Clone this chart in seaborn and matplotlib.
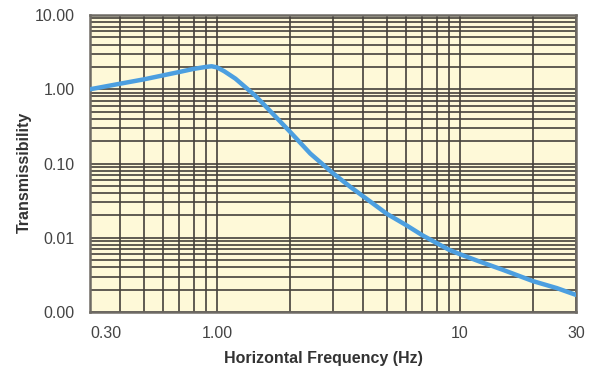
import numpy as np
import matplotlib
matplotlib.use("Agg")
import matplotlib.pyplot as plt
from matplotlib.ticker import FixedLocator, FixedFormatter, LogLocator, NullFormatter
import seaborn as sns

# ---------- datos ----------
freq = [0.3, 0.4, 0.5, 0.6, 0.7, 0.8, 0.9, 0.95, 1.0, 1.07, 1.19, 1.43, 1.6,
        2.0, 2.42, 3.0, 3.52, 4.0, 5.0, 6.0, 7.0, 8.0, 9.0, 10.0, 12.0, 15.0,
        20.0, 25.0, 30.0]
trans = [1.0, 1.19, 1.36, 1.54, 1.71, 1.88, 2.0, 2.04, 1.97, 1.75, 1.39, 0.83, 0.57,
         0.266, 0.136, 0.074, 0.049, 0.036, 0.021, 0.0148, 0.0108, 0.0085, 0.0069, 0.0060, 0.0048, 0.0037,
         0.0026, 0.0021, 0.0017]

x_ticks = [0.3, 1, 10, 30]
x_labels = ["0.30", "1.00", "10", "30"]
y_ticks = [0.001, 0.01, 0.1, 1, 10]
y_labels = ["0.00", "0.01", "0.10", "1.00", "10.00"]

# ---------- estilo ----------
sns.set_theme(style="white")
plt.rcParams['font.family'] = ['Liberation Sans Narrow', 'Liberation Sans', 'DejaVu Sans']

fig = plt.figure(figsize=(6, 3.82), dpi=100)
ax = fig.add_axes([0.15, 0.1832, 0.81, 0.7775])
ax.set_facecolor('#fef9d8')
ax.set_xscale('log'); ax.set_yscale('log')

sns.lineplot(x=freq, y=trans, ax=ax, color='#4c9fe0', linewidth=3.2, zorder=5)

ax.set_xlim(0.3, 30); ax.set_ylim(0.001, 10)
ax.xaxis.set_major_locator(FixedLocator(x_ticks))
ax.xaxis.set_major_formatter(FixedFormatter(x_labels))
ax.xaxis.set_minor_locator(LogLocator(base=10, subs=np.arange(2, 10)))
ax.xaxis.set_minor_formatter(NullFormatter())
ax.yaxis.set_major_locator(FixedLocator(y_ticks))
ax.yaxis.set_major_formatter(FixedFormatter(y_labels))
ax.yaxis.set_minor_locator(LogLocator(base=10, subs=np.arange(2, 10)))
ax.yaxis.set_minor_formatter(NullFormatter())

ax.grid(True, which='both', color='#45413b', linewidth=1.2)
ax.tick_params(which='both', length=0)
ax.tick_params(axis='x', pad=10, labelsize=11.5, labelcolor='#444444')
ax.tick_params(axis='y', pad=11, labelsize=11.5, labelcolor='#444444')
ax.get_xticklabels()[0].set_horizontalalignment('left')
for s in ax.spines.values():
    s.set_color('#6e6a64'); s.set_linewidth(1.8)

ax.set_xlabel('Horizontal Frequency (Hz)', fontsize=11.5, fontweight='bold', color='#333333')
ax.xaxis.set_label_coords(0.48, -0.13)
ax.set_ylabel('Transmissibility', fontsize=11.5, fontweight='bold', color='#333333')
ax.yaxis.set_label_coords(-0.12, 0.47)

fig.savefig('out.png', dpi=100)
